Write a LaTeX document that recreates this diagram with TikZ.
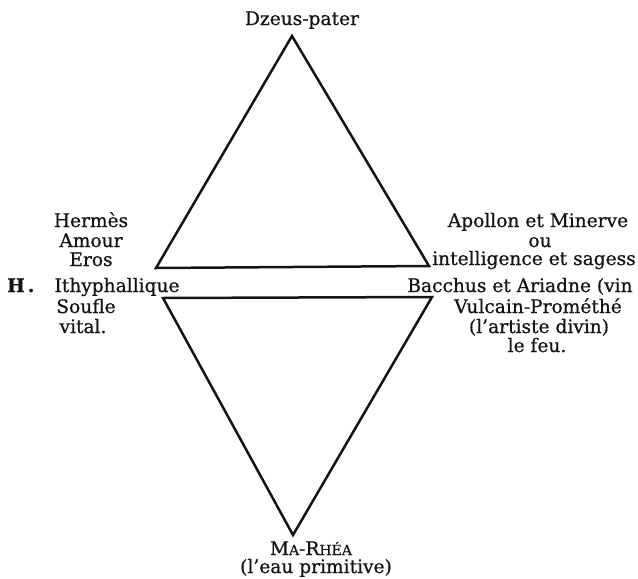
\documentclass[tikz,border=0pt]{standalone}
\usepackage{fontspec}
\setmainfont{DejaVu Serif}[FakeBold=0.7]
\definecolor{ink}{HTML}{141414}
\begin{document}
\begin{tikzpicture}[x=1pt,y=-1pt,
  lbl/.style={anchor=base,inner sep=0pt,text=ink,font=\fontsize{18.6}{20}\selectfont},
  edge/.style={draw=ink,line width=2.5pt,line join=miter}]
\useasboundingbox (0,0) rectangle (638,579);
% triangle vertices
\coordinate (A) at (292,36);
\coordinate (B) at (156,268);
\coordinate (C) at (429,266);
\coordinate (D) at (163,298);
\coordinate (E) at (432,297);
\coordinate (F) at (293,535);
\draw[edge] (A) -- (B) -- (C) -- cycle;
\draw[edge] (D) -- (E) -- (F) -- cycle;
% labels
\node[lbl] (top) at (302,25) {Dzeus-pater};
\node[lbl] (l1) at (91,227) {Hermès};
\node[lbl] (l2) at (91,247) {Amour};
\node[lbl] (l3) at (91,266) {Eros};
\node[lbl,anchor=base west] (lH) at (7,292) {\textbf{H\,.}};
\node[lbl] (l4) at (117,292) {Ithyphallique};
\node[lbl] (l5) at (86,313) {Soufle};
\node[lbl] (l6) at (83,333) {vital.};
\node[lbl] (r1) at (538,227) {Apollon et Minerve};
\node[lbl] (r2) at (540,247) {ou};
\node[lbl] (r3) at (534,265) {intelligence et sagess};
\node[lbl] (r4) at (520,292) {Bacchus et Ariadne (vin};
\node[lbl] (r5) at (538,313) {Vulcain-Prométhé};
\node[lbl] (r6) at (539,333) {(l'artiste divin)};
\node[lbl] (r7) at (537,352) {le feu.};
\node[lbl] (b1) at (311,555) {M{\fontsize{14}{14}\selectfont A}-R{\fontsize{14}{14}\selectfont HÉA}};
\node[lbl] (b2) at (316,573) {(l'eau primitive)};
\end{tikzpicture}
\end{document}
